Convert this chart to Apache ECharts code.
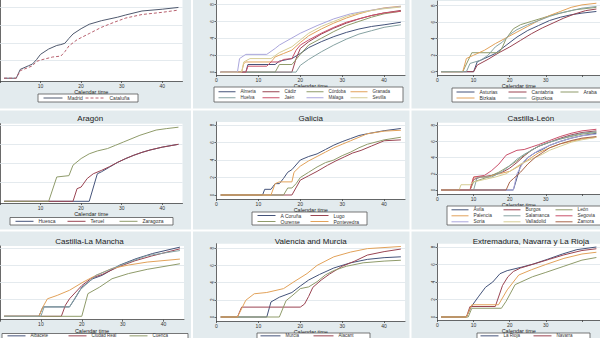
<!DOCTYPE html>
<html><head><meta charset="utf-8">
<script src="https://cdn.jsdelivr.net/npm/echarts@6/dist/echarts.min.js"></script>
<style>html,body{margin:0;padding:0;background:#fff}#c{width:600px;height:338px}</style>
</head><body><div id="c"></div><script>
const xTicks = [0, 10, 20, 30, 40];
const yTicks = [0, 2, 4, 6, 8];
const xName = 'Calendar time';

const titles = [null, null, null, 'Aragón', 'Galicia', 'Castilla-León', 'Castilla-La Mancha', 'Valencia and Murcia', 'Extremadura, Navarra y La Rioja'];

// Panel 1
const p1Names = ['Madrid', 'Cataluña'];
const madrid = [[1,0],[4,0],[5,1.0],[7,1.4],[8,1.6],[9,2.1],[10,2.7],[12,3.3],[14,3.7],[15,3.8],[16,3.95],[17,4.5],[18,5.0],[20,5.6],[22,6.1],[25,6.5],[29,6.9],[31,7.15],[35,7.6],[40,7.8],[44,8.0]];
const cataluna = [[1,0],[4,0],[5,0.85],[8,1.4],[9,1.9],[10,2.05],[13,2.4],[15,2.5],[16,3.0],[17,3.65],[19,4.35],[22,5.05],[25,5.75],[28,6.3],[31,6.8],[35,7.2],[40,7.45],[44,7.7]];

// Panel 2 Andalucía
const p2Names = ['Almeria', 'Cádiz', 'Córdoba', 'Granada', 'Huelva', 'Jaén', 'Málaga', 'Sevilla'];
const almeria = [[1,0],[7,0],[7.5,0.9],[14,0.9],[15,1.3],[18,1.6],[20,2.2],[22,2.9],[25,3.6],[28,4.2],[31,4.7],[34,5.1],[37,5.4],[40,5.6],[44,5.9]];
const cadiz = [[1,0],[18,0],[19,1.6],[20,2.8],[22,3.6],[25,4.5],[28,5.2],[31,5.8],[34,6.3],[37,6.7],[40,7.0],[44,7.3]];
const cordoba = [[1,0],[14,0],[15,0.9],[18,0.9],[20,2.1],[22,3.2],[25,4.0],[28,4.8],[31,5.5],[34,6.0],[37,6.5],[40,6.9],[44,7.2]];
const granada = [[1,0],[6,0],[6.5,1.0],[7,1.2],[13,1.2],[14,1.8],[16,2.2],[18,2.6],[20,3.5],[22,4.3],[25,5.1],[28,5.8],[31,6.4],[34,6.9],[37,7.3],[40,7.6],[44,7.8]];
const huelva = [[1,0],[19,0],[20,0.8],[22,1.5],[25,2.4],[28,3.2],[31,3.9],[34,4.5],[37,4.9],[40,5.3],[44,5.6]];
const jaen = [[1,0],[7,0],[7.5,0.7],[12,0.7],[13,1.2],[15,1.2],[16,1.5],[18,1.6],[19,2.6],[20,3.2],[22,3.8],[25,4.6],[28,5.3],[31,5.9],[34,6.3],[37,6.7],[40,7.0],[44,7.2]];
const malaga = [[1,0],[5,0],[5.5,1.6],[7,2.1],[12,2.1],[14,2.8],[15,3.2],[20,4.6],[24,5.5],[28,6.3],[32,6.9],[36,7.25],[40,7.55],[44,7.75]];
const sevilla = [[1,0],[6,0],[6.5,1.2],[8,1.6],[13,1.6],[15,2.3],[18,3.0],[20,3.8],[22,4.6],[25,5.4],[28,6.0],[31,6.6],[34,7.0],[37,7.3],[40,7.5],[44,7.7]];

// Panel 3 Asturias, Cantabria, País Vasco
const p3Names = ['Asturias', 'Cantabria', 'Araba', 'Bizkaia', 'Gipuzkoa'];
const asturias = [[1,0],[10,0],[11,1.2],[13,1.6],[16,2.2],[19,3.2],[22,4.2],[25,5.0],[28,5.6],[31,6.2],[34,6.6],[37,6.9],[40,7.1],[44,7.3]];
const cantabria = [[1,0],[10,0],[11,0.8],[14,1.5],[17,2.3],[20,3.0],[23,3.8],[26,4.6],[29,5.3],[32,5.9],[35,6.5],[38,7.0],[41,7.4],[44,7.6]];
const araba = [[1,0],[7,0],[9.5,2.3],[17,2.3],[18,3.0],[19,4.0],[21,5.2],[23,5.7],[26,6.1],[29,6.5],[32,6.9],[35,7.2],[38,7.5],[44,7.8]];
const bizkaia = [[1,0],[7,0],[8,1.6],[10,2.0],[13,2.6],[16,3.4],[19,4.1],[22,4.8],[25,5.5],[28,6.2],[31,6.8],[34,7.3],[37,7.8],[40,8.1],[44,8.3]];
const gipuzkoa = [[1,0],[8,0],[9,1.0],[12,1.4],[14,2.0],[16,3.0],[18,3.6],[20,4.5],[22,5.1],[25,5.7],[28,6.2],[31,6.7],[34,7.1],[37,7.4],[40,7.7],[44,7.9]];

// Panel 4 Aragón
const p4Names = ['Huesca', 'Teruel', 'Zaragoza'];
const huesca = [[1,0],[22,0],[24,2.9],[25,3.1],[27,3.6],[29,4.1],[31,4.5],[33,4.85],[35,5.15],[37,5.4],[40,5.7],[44,6.0]];
const teruel = [[1,0],[18,0],[19,1.33],[20,1.5],[21.5,2.4],[23,2.9],[25,3.25],[27,3.65],[29,4.1],[31,4.5],[33,4.85],[35,5.15],[37,5.4],[40,5.7],[44,6.0]];
const zaragoza = [[1,0],[12,0],[14,2.56],[17,2.7],[18,3.8],[20,4.5],[22,5.0],[24,5.3],[26.5,5.55],[28.5,5.9],[30.5,6.25],[34.5,6.95],[38.5,7.5],[41,7.65],[44,7.8]];

// Panel 5 Galicia
const p5Names = ['A Coruña', 'Lugo', 'Ourense', 'Pontevedra'];
const acoruna = [[1,0],[11,0],[11.5,0.65],[13,0.65],[14,1.3],[15,1.3],[16,1.9],[17,2.6],[18,2.9],[20,4.0],[22,4.4],[24,4.7],[26,5.2],[28,5.7],[30,6.1],[32,6.45],[34,6.8],[36,7.0],[40,7.35],[44,7.6]];
const lugo = [[1,0],[18,0],[20,1.7],[22,2.2],[24,2.7],[26.5,3.4],[28.5,3.9],[30.5,4.35],[32.5,4.8],[34.5,5.1],[37,5.6],[40,6.2],[44,6.3]];
const ourense = [[1,0],[16,0],[17,0.8],[18,0.8],[19,1.3],[20,2.0],[22,2.6],[24,3.2],[26,3.7],[28,4.0],[30,4.5],[32,4.9],[34,5.4],[36,5.8],[40,6.3],[44,6.6]];
const pontevedra = [[1,0],[13,0],[14,1.3],[15,1.5],[18,1.5],[18.5,2.6],[20,3.3],[22,3.9],[24,4.4],[26,4.9],[28,5.4],[30,5.8],[32,6.2],[34,6.6],[36,7.0],[40,7.3],[44,7.4]];

// Panel 6 Castilla-León
const p6Names = ['Ávila', 'Burgos', 'León', 'Palencia', 'Salamanca', 'Segovia', 'Soria', 'Valladolid', 'Zamora'];
const avila = [[1,0],[21,0],[22,1.5],[23,3.0],[25,4.0],[27,4.6],[29,5.0],[31,5.5],[34,6.0],[37,6.4],[40,6.7],[44,7.0]];
const burgos = [[1,0],[9,0],[10,1.3],[12,1.6],[15,1.8],[18,2.2],[20,2.7],[22,3.4],[24,4.2],[26,4.9],[28,5.4],[31,5.9],[34,6.4],[37,6.8],[40,7.1],[44,7.3]];
const leon = [[1,0],[9,0],[10,1.0],[14,1.6],[17,2.2],[20,3.0],[22,3.6],[24,4.3],[26,4.9],[28,5.4],[31,5.9],[34,6.3],[37,6.6],[40,6.9],[44,7.1]];
const palencia = [[1,0],[9,0],[10,1.6],[14,1.6],[17,2.0],[20,2.3],[22,2.8],[24,3.4],[26,4.0],[28,4.6],[31,5.2],[34,5.7],[37,6.0],[40,6.3],[44,6.5]];
const salamanca = [[1,0],[10,0],[11,1.6],[15,1.6],[18,2.3],[20,3.0],[22,3.8],[24,4.4],[26,4.9],[28,5.4],[31,5.9],[34,6.3],[37,6.7],[40,7.0],[44,7.2]];
const segovia = [[1,0],[9,0],[10,1.6],[13,1.8],[15,2.4],[17,3.2],[19,4.3],[22,4.9],[24,5.0],[26,5.3],[28,5.6],[31,6.1],[34,6.6],[37,7.0],[40,7.3],[44,7.5]];
const soria = [[1,0],[21,0],[22,2.0],[23,2.8],[24,3.6],[26,4.3],[28,4.9],[31,5.5],[34,6.0],[37,6.4],[40,6.7],[44,6.9]];
const valladolid = [[1,0],[6,0],[6.5,0.65],[9,0.65],[10,1.0],[13,1.3],[16,1.6],[19,2.0],[21,2.6],[23,3.2],[25,3.6],[27,4.0],[29,4.4],[31,4.9],[34,5.4],[37,5.9],[40,6.2],[44,6.5]];
const zamora = [[1,0],[19,0],[20,1.0],[21,1.4],[23,2.2],[25,3.2],[27,4.0],[29,4.6],[31,5.2],[34,5.7],[37,6.1],[40,6.4],[44,6.6]];

// Panel 7 Castilla-La Mancha
const p7Names = ['Albacete', 'Ciudad Real', 'Cuenca', 'Guadalajara', 'Toledo'];
const albacete = [[1,0],[9.5,0],[10.5,1.1],[17,1.1],[18.3,2.05],[20,3.4],[22.7,4.4],[25,4.8],[29.3,6.0],[33.3,6.75],[37.3,7.35],[44,8.1]];
const ciudadReal = [[1,0],[15,0],[16,1.3],[17,2.05],[20,3.6],[22.5,4.5],[25,4.9],[29,5.8],[33,6.5],[37,7.05],[44,7.9]];
const cuenca = [[1,0],[20,0],[21.5,2.65],[24.3,3.4],[27.4,4.4],[31.4,5.0],[36,5.5],[44,6.15]];
const guadalajara = [[1,0],[9.5,0],[10.5,1.1],[11.6,2.05],[14,2.45],[17,3.05],[20.3,4.0],[23.5,4.8],[27.4,5.6],[31.4,6.0],[36,6.35],[44,6.7]];
const toledo = [[1,0],[10,0],[10.8,1.1],[17,1.1],[19.5,3.05],[23.5,4.8],[29,5.9],[36,7.1],[44,7.7]];

// Panel 8 Valencia and Murcia
const p8Names = ['Murcia', 'Alacant', 'Castelló', 'València'];
const murcia = [[1,0],[12,0],[13,1.75],[15,2.3],[18,2.85],[20,3.6],[22,4.3],[24.6,4.95],[28,5.7],[32,6.3],[36,6.7],[40,6.9],[44,7.0]];
const alacant = [[1,0],[5,0],[6,1.15],[20,1.15],[21,1.5],[22,2.4],[23,3.45],[25,4.3],[27,5.0],[30,5.9],[33,6.5],[36,7.2],[40,7.6],[44,7.9]];
const castello = [[1,0],[15,0],[16.6,1.9],[18,2.45],[20,3.3],[22,3.5],[24,4.1],[26,4.9],[28,5.4],[31,5.9],[35,6.3],[40,6.5],[44,6.6]];
const valencia = [[1,0],[5,0],[7,1.95],[9,2.7],[12,2.85],[16,3.3],[18.5,4.1],[21.6,5.05],[24,6.0],[28,7.0],[32,7.55],[36,7.95],[44,8.2]];

// Panel 9 Extremadura, Navarra y La Rioja
const p9Names = ['La Rioja', 'Navarra', 'Badajoz', 'Cáceres'];
const laRioja = [[1,0],[8,0],[9.3,1.15],[11.3,2.3],[13.3,3.4],[15.3,4.0],[17.3,4.95],[19.3,5.3],[23.3,5.7],[26.5,6.05],[30.5,6.6],[34.6,7.2],[38.6,7.7],[44,8.0]];
const navarra = [[1,0],[8,0],[9,1.2],[16,1.2],[18,3.6],[19.5,4.6],[21,5.2],[23,5.6],[27,6.1],[31,6.6],[35,7.1],[40,7.6],[44,7.8]];
const badajoz = [[1,0],[8.5,0],[9.5,1.0],[17.7,1.0],[19,1.8],[21.5,3.7],[26.3,4.6],[30,5.1],[35,5.8],[40,6.5],[44,6.8]];
const caceres = [[1,0],[8,0],[9.5,1.4],[16.9,1.4],[19.3,3.1],[22.5,4.8],[26,5.4],[30,6.0],[35,6.7],[40,7.2],[44,7.4]];

const panelNames = [p1Names, p2Names, p3Names, p4Names, p5Names, p6Names, p7Names, p8Names, p9Names];
const panelData = [
  [madrid, cataluna],
  [almeria, cadiz, cordoba, granada, huelva, jaen, malaga, sevilla],
  [asturias, cantabria, araba, bizkaia, gipuzkoa],
  [huesca, teruel, zaragoza],
  [acoruna, lugo, ourense, pontevedra],
  [avila, burgos, leon, palencia, salamanca, segovia, soria, valladolid, zamora],
  [albacete, ciudadReal, cuenca, guadalajara, toledo],
  [murcia, alacant, castello, valencia],
  [laRioja, navarra, badajoz, caceres]
];

// ---- styling / layout (not data) ----
const pal = ['#44537a', '#9a4452', '#8f9b6a', '#e2a25a', '#86a2a2', '#c9506a', '#aaa6dc', '#d6cd94', '#a8654a'];
const xShow = [[10,20,30,40],[0,10,20,30,40],[0,10,20,30],[10,20,30,40],[0,10,20,30,40],[0,10,20,30],[10,20,30,40],[0,10,20,30,40],[0,10,20,30]];
const layout = [
  {x0:-2, xs:4.1, y0:78, ys:9.5, top:-6, bottom:81, yl:false, ng:6,
   lg:{l:38, t:94, r:138, b:102, kx:43, ky:98, kw:19, p:42, rp:6, c:2, fs:5, n:2}},
  {x0:216.5, xs:4.19, y0:72, ys:8.79, top:-3, bottom:75, yl:true, ng:6,
   lg:{l:214, t:87, r:403, b:102, kx:218, ky:91.5, kw:17, p:44, rp:6, c:4, fs:4.5, n:8}},
  {x0:437.5, xs:4.15, y0:71.7, ys:8.25, top:1, bottom:75, yl:true, ng:6,
   lg:{l:452, t:88, r:612, b:102, kx:456, ky:92, kw:18, p:52, rp:6, c:3, fs:5, n:5}},
  {x0:-2, xs:4.1, y0:201.3, ys:9.5, top:123.7, bottom:203, ty:118, yl:false, ng:6,
   lg:{l:10, t:217.5, r:173, b:225, kx:15, ky:221.3, kw:18, p:52, rp:6, c:3, fs:5, n:3}},
  {x0:216.5, xs:4.19, y0:195, ys:8.75, top:122, bottom:199, ty:118, yl:true, ng:5.5,
   lg:{l:252, t:212, r:367, b:225, kx:257, ky:215.5, kw:18, p:53, rp:6, c:2, fs:5, n:4}},
  {x0:437.5, xs:4.15, y0:190, ys:8.1, top:122.7, bottom:194, ty:118.5, yl:true, ng:4.5,
   lg:{l:447, t:206, r:612, b:225, kx:451, ky:209.7, kw:17, p:52, rp:6, c:3, fs:4.8, n:9}},
  {x0:-5, xs:4.2, y0:316.3, ys:8.54, top:246, bottom:319.7, ty:241, yl:false, ng:5.5,
   lg:{l:2, t:333.5, r:188, b:350, kx:7, ky:335.6, kw:18, p:61, rp:6, c:3, fs:4.5, n:3}},
  {x0:216.5, xs:4.19, y0:317, ys:8.6, top:243.7, bottom:321, ty:241, yl:true, ng:5,
   lg:{l:257, t:333, r:370, b:350, kx:260, ky:335.6, kw:20, p:53, rp:6, c:2, fs:4.5, n:2}},
  {x0:437.5, xs:4.15, y0:317, ys:8.75, top:243.7, bottom:320, ty:241, yl:true, ng:5.5,
   lg:{l:477, t:333, r:590, b:350, kx:480, ky:335.6, kw:18, p:53, rp:6, c:2, fs:4.5, n:2}}
];
const colsX = [[-10, 191], [193, 409.5], [411.5, 620]];
const rowsY = [[-10, 108.5], [110.5, 229.5], [231.5, 350]];

const grids = [], xAxes = [], yAxes = [], series = [], legends = [], graphics = [];
const FONT = 'Liberation Sans, Arial, sans-serif';

colsX.forEach(cx => rowsY.forEach(ry => {
  graphics.push({type:'rect', z:-100, shape:{x:cx[0], y:ry[0], width:cx[1]-cx[0], height:ry[1]-ry[0]}, style:{fill:'#e3ebee'}, silent:true});
}));

layout.forEach((L, i) => {
  const w = 45 * L.xs;
  grids.push({left:L.x0, top:L.top, width:w, height:L.bottom - L.top, show:true, backgroundColor:'#ffffff', borderWidth:0, containLabel:false});
  xAxes.push({
    type:'value', gridIndex:i, min:0, max:45,
    name:xName, nameLocation:'middle', nameGap:L.ng,
    nameTextStyle:{fontSize:5.5, color:'#222', fontFamily:FONT},
    axisLine:{show:true, onZero:false, lineStyle:{color:'#444', width:0.8}},
    axisTick:{show:true, length:2, customValues:xTicks, lineStyle:{color:'#444', width:0.8}},
    axisLabel:{customValues:xShow[i], fontSize:5, margin:2, color:'#333', fontFamily:FONT},
    splitLine:{show:false}
  });
  const ymin = -(L.bottom - L.y0) / L.ys;
  const ymax = (L.y0 - L.top) / L.ys;
  yAxes.push({
    type:'value', gridIndex:i, min:ymin, max:ymax,
    axisLine:{show:true, onZero:false, lineStyle:{color:'#444', width:0.8}},
    axisTick:{show:true, length:2, customValues:yTicks, lineStyle:{color:'#444', width:0.8}},
    axisLabel:{show:L.yl, customValues:yTicks, fontSize:4.5, margin:2, rotate:90, color:'#333', fontFamily:FONT},
    splitLine:{show:false}
  });
  const names = panelNames[i];
  panelData[i].forEach((d, k) => {
    let color = pal[k % pal.length];
    let type = 'solid';
    if (i === 0) { color = k === 0 ? '#4f596e' : '#b8616f'; type = k === 0 ? 'solid' : [3, 2]; }
    const s = {
      type:'line', name:names[k], data:d, xAxisIndex:i, yAxisIndex:i,
      symbol:'none', showSymbol:false, silent:true, clip:true,
      color:color, lineStyle:{width:1, color:color, type:type}, z:3
    };
    if (k === 0) {
      s.markLine = {silent:true, symbol:['none','none'], label:{show:false}, z:1,
        lineStyle:{color:'#dde5ea', width:0.8, type:'solid'},
        data: yTicks.slice(1).map(v => ({yAxis:v}))};
    }
    series.push(s);
  });
  const G = L.lg;
  graphics.push({type:'rect', z:5, silent:true,
    shape:{x:G.l, y:G.t, width:G.r - G.l, height:G.b - G.t},
    style:{fill:'#ffffff', stroke:'#555', lineWidth:0.8}});
  names.slice(0, G.n).forEach((nm, k) => {
    const col = k % G.c, row = Math.floor(k / G.c);
    legends.push({
      data:[nm], left:G.kx + col * G.p, top:G.ky + row * G.rp - G.fs / 2,
      orient:'horizontal', itemWidth:G.kw, itemHeight:G.fs, itemGap:0, padding:0,
      selectedMode:false, z:6,
      itemStyle:{opacity:0},
      lineStyle:{width:1},
      textStyle:{fontSize:G.fs, lineHeight:G.fs, color:'#333', fontFamily:FONT}
    });
  });
  if (titles[i]) {
    graphics.push({type:'text', x:L.x0 + w / 2, y:L.ty, z:10,
      style:{text:titles[i], align:'center', verticalAlign:'middle', fontSize:8, fill:'#222', fontFamily:FONT}});
  }
});

const chart = echarts.init(document.getElementById('c'), null, {renderer:'svg', width:600, height:338});
chart.setOption({
  backgroundColor:'#ffffff',
  animation:false,
  grid:grids, xAxis:xAxes, yAxis:yAxes, series:series, legend:legends, graphic:graphics
});
</script></body></html>
